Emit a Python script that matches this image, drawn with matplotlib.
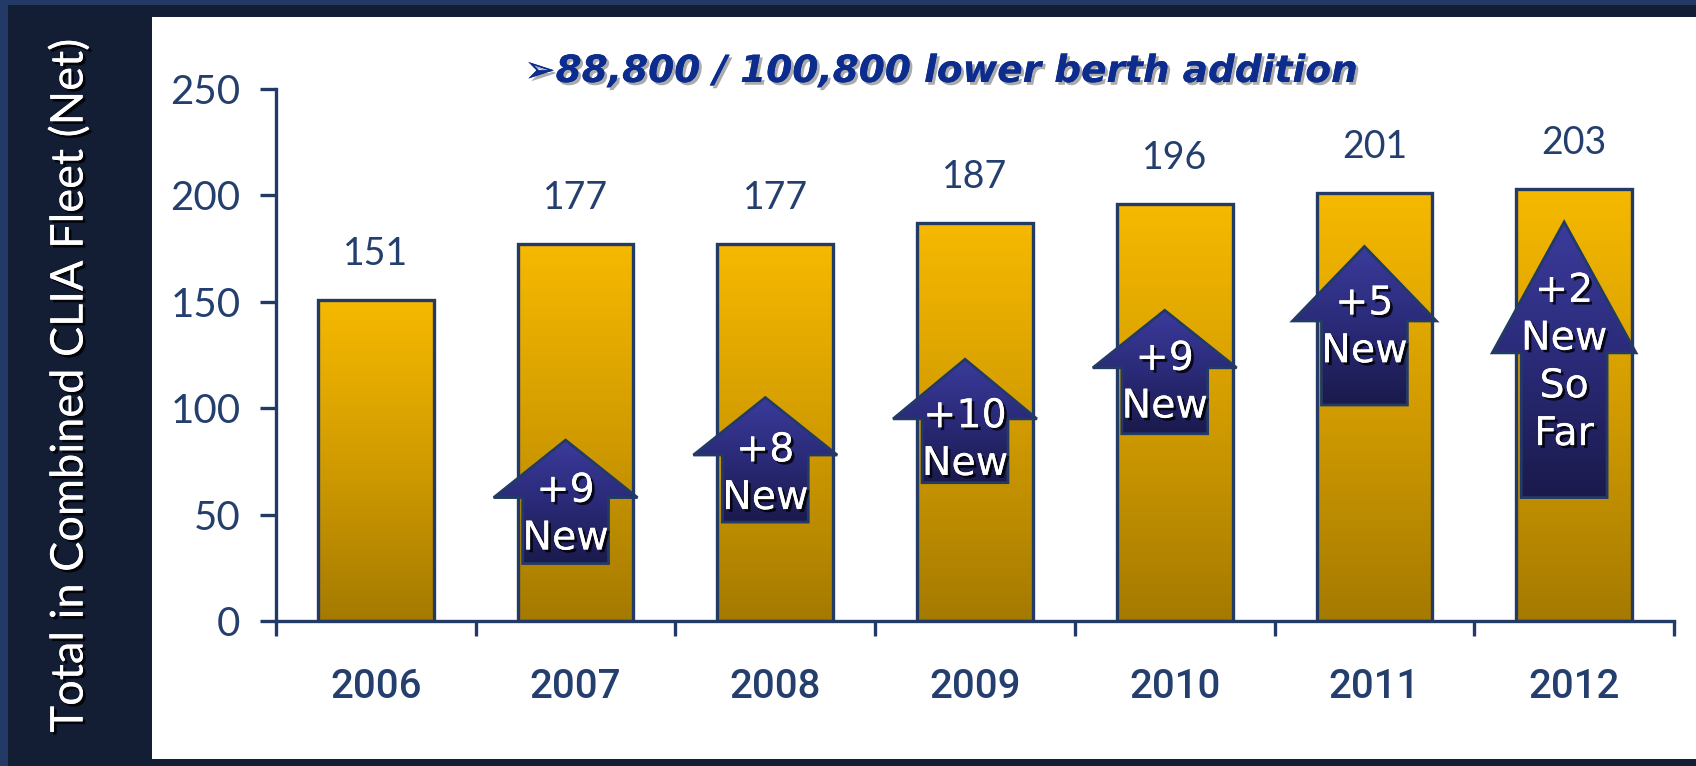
import numpy as np
import matplotlib.pyplot as plt
import matplotlib.patheffects as pe
from matplotlib.colors import LinearSegmentedColormap
from matplotlib.patches import Polygon, Rectangle

# ------------------------------------------------------------
# Data
# ------------------------------------------------------------
years = ["2006", "2007", "2008", "2009", "2010", "2011", "2012"]
fleet = [151, 177, 177, 187, 196, 201, 203]

# arrow annotations (index of year, label, tip / wing / bottom / text centre in data units)
arrow_idx = [1, 2, 3, 4, 5, 6]
arrow_text = ["+9\nNew", "+8\nNew", "+10\nNew", "+9\nNew", "+5\nNew", "+2\nNew\nSo\nFar"]
arrow_tip = [85, 105, 123, 146, 176, 187.5]
arrow_wing = [58, 78, 95, 119, 141, 126]
arrow_bottom = [27, 46.5, 65, 88, 101.5, 58]
arrow_textc = [50, 69, 85, 112, 138, 121.5]

NAVY = "#233a66"
TXT = "#243f6e"

gold = LinearSegmentedColormap.from_list("gold", ["#a57a00", "#d29c00", "#f6b900"])
blue = LinearSegmentedColormap.from_list("blue", ["#1a1a4c", "#2a2a78", "#3b3b9c"])
grad = np.linspace(0, 1, 256).reshape(-1, 1)

shadow = [pe.withSimplePatchShadow(offset=(2, -2), shadow_rgbFace="black", alpha=0.8), pe.Normal()]


def main():
    fig = plt.figure(figsize=(16.96, 7.66), dpi=100)
    fig.patch.set_facecolor("#131d33")

    # outer frame and white panel
    fig.patches.append(Rectangle((0, 0), 8 / 1696, 1, transform=fig.transFigure,
                                 facecolor="#243a66", edgecolor="none", zorder=-2))
    fig.patches.append(Rectangle((0, 1 - 5 / 766), 1, 5 / 766, transform=fig.transFigure,
                                 facecolor="#243a66", edgecolor="none", zorder=-2))
    fig.patches.append(Rectangle((152 / 1696, 7 / 766), 1, (759 - 17) / 766,
                                 transform=fig.transFigure, facecolor="white",
                                 edgecolor="none", zorder=-1))

    ax = fig.add_axes([276 / 1696, 145 / 766, (1674 - 276) / 1696, 532 / 766])
    ax.set_facecolor("none")

    x = np.arange(len(years))
    width = 0.58

    # bars with gradient fill
    bars = ax.bar(x, fleet, width, facecolor="none", edgecolor=NAVY, linewidth=2.4, zorder=3)
    for b in bars:
        x0, h = b.get_x(), b.get_height()
        ax.imshow(grad, extent=[x0, x0 + width, 0, h], origin="lower", aspect="auto",
                  cmap=gold, zorder=2)

    # value labels
    for xi, v in zip(x, fleet):
        ax.annotate(str(v), (xi, v), xytext=(0, 46), textcoords="offset pixels",
                    ha="center", va="center", fontsize=27, color=TXT, family="Lato")

    # arrows
    off = -0.05
    hw, sw = 0.36, 0.215
    for i, lab, tip, wing, bot, tc in zip(arrow_idx, arrow_text, arrow_tip,
                                         arrow_wing, arrow_bottom, arrow_textc):
        cx = i + off
        pts = [(cx, tip), (cx + hw, wing), (cx + sw, wing), (cx + sw, bot),
               (cx - sw, bot), (cx - sw, wing), (cx - hw, wing)]
        poly = Polygon(pts, closed=True, facecolor="none", edgecolor=NAVY,
                       linewidth=2, zorder=5)
        ax.add_patch(poly)
        im = ax.imshow(grad, extent=[cx - hw, cx + hw, bot, tip], origin="lower",
                       aspect="auto", cmap=blue, zorder=4)
        im.set_clip_path(poly)
        ax.text(cx, tc, lab, ha="center", va="center", fontsize=28.5, color="white",
                family="DejaVu Sans", linespacing=1.25, zorder=6, path_effects=shadow)

    ax.set_xlim(-0.5, len(years) - 0.5)
    ax.set_ylim(0, 250)
    ax.set_yticks([0, 50, 100, 150, 200, 250])

    ax.set_xticks(np.arange(len(years) + 1) - 0.5)
    ax.set_xticklabels([])
    ax.set_xticks(x, minor=True)
    ax.set_xticklabels(years, minor=True)
    ax.tick_params(axis="x", which="major", direction="out", length=11, width=2.4, color=NAVY)
    ax.tick_params(axis="x", which="minor", length=0, pad=34, labelsize=29, labelcolor=TXT)
    ax.tick_params(axis="y", direction="out", length=11.5, width=2.4, color=NAVY,
                   pad=14, labelsize=29, labelcolor=TXT)
    for t in ax.get_yticklabels():
        t.set_family("Lato")
    for t in ax.get_xticklabels(minor=True):
        t.set_family("Roboto")
        t.set_fontweight("medium")

    for s in ["top", "right"]:
        ax.spines[s].set_visible(False)
    for s in ["left", "bottom"]:
        ax.spines[s].set_color(NAVY)
        ax.spines[s].set_linewidth(2.4)

    fig.text(70 / 1696, 1 - 386 / 766, "Total in Combined CLIA Fleet (Net)", rotation=90,
             ha="center", va="center", fontsize=32.5, color="white", family="Lato",
             path_effects=shadow)

    fig.text(941 / 1696, 1 - 72 / 766, "\u27a288,800 / 100,800 lower berth addition",
             ha="center", va="center", fontsize=27, color="#0c2c8e", family="DejaVu Sans",
             fontweight="bold", fontstyle="italic",
             path_effects=[pe.withSimplePatchShadow(offset=(2, -2), shadow_rgbFace="#888888",
                                                    alpha=0.7), pe.Normal()])

    fig.savefig("out.png", dpi=100, facecolor=fig.get_facecolor())
    plt.close(fig)


if __name__ == "__main__":
    main()
